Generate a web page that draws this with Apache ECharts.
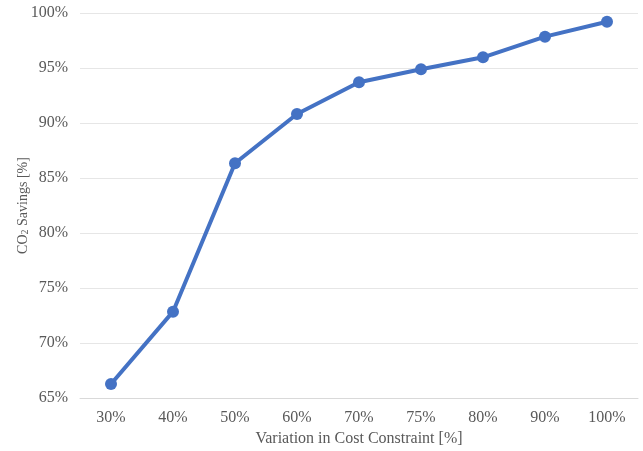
<!DOCTYPE html>
<html>
<head>
<meta charset="utf-8">
<script src="https://cdn.jsdelivr.net/npm/echarts@6/dist/echarts.min.js"></script>
<style>
html,body{margin:0;padding:0;background:#fff;}
#chart{width:643px;height:451px;}
</style>
</head>
<body>
<div id="chart"></div>
<script>
var categories = ['30%','40%','50%','60%','70%','75%','80%','90%','100%'];
var savings = [66.27, 72.85, 86.34, 90.82, 93.70, 94.88, 95.97, 97.85, 99.21];
var yMin = 65, yMax = 100, yStep = 5;
var xTitle = 'Variation in Cost Constraint [%]';

var font = '"Liberation Serif", "Times New Roman", serif';
var txt = '#595959';
var chart = echarts.init(document.getElementById('chart'), null, {renderer:'canvas'});
chart.setOption({
  animation:false,
  backgroundColor:'#fff',
  grid:{left:80, right:5, top:13, bottom:53, containLabel:false, outerBoundsMode:'none'},
  xAxis:{
    type:'category', data:categories, boundaryGap:true,
    axisLine:{show:true, lineStyle:{color:'#d9d9d9', width:1}},
    axisTick:{show:false},
    axisLabel:{color:txt, fontFamily:font, fontSize:16, margin:12},
    name:xTitle, nameLocation:'middle', nameGap:31,
    nameTextStyle:{color:txt, fontFamily:font, fontSize:16}
  },
  yAxis:{
    type:'value', min:yMin, max:yMax, interval:yStep,
    axisLine:{show:false}, axisTick:{show:false},
    splitLine:{lineStyle:{color:'#e6e6e6', width:1}},
    axisLabel:{color:txt, fontFamily:font, fontSize:16, margin:12, formatter:function(v){return v+'%';}},
    name:'{a|CO}{s|2}{a| Savings [%]}', nameLocation:'middle', nameGap:50, nameRotate:90,
    nameMoveOverlap:false,
    nameTextStyle:{color:txt, fontFamily:font, fontSize:14,
      rich:{a:{color:txt, fontFamily:font, fontSize:14, verticalAlign:'bottom', lineHeight:17},
            s:{color:txt, fontFamily:font, fontSize:10, verticalAlign:'bottom', lineHeight:12}}}
  },
  series:[{
    type:'line', data:savings,
    symbol:'circle', symbolSize:12,
    lineStyle:{color:'#4472C4', width:4},
    itemStyle:{color:'#4472C4'}
  }]
});
</script>
</body>
</html>
